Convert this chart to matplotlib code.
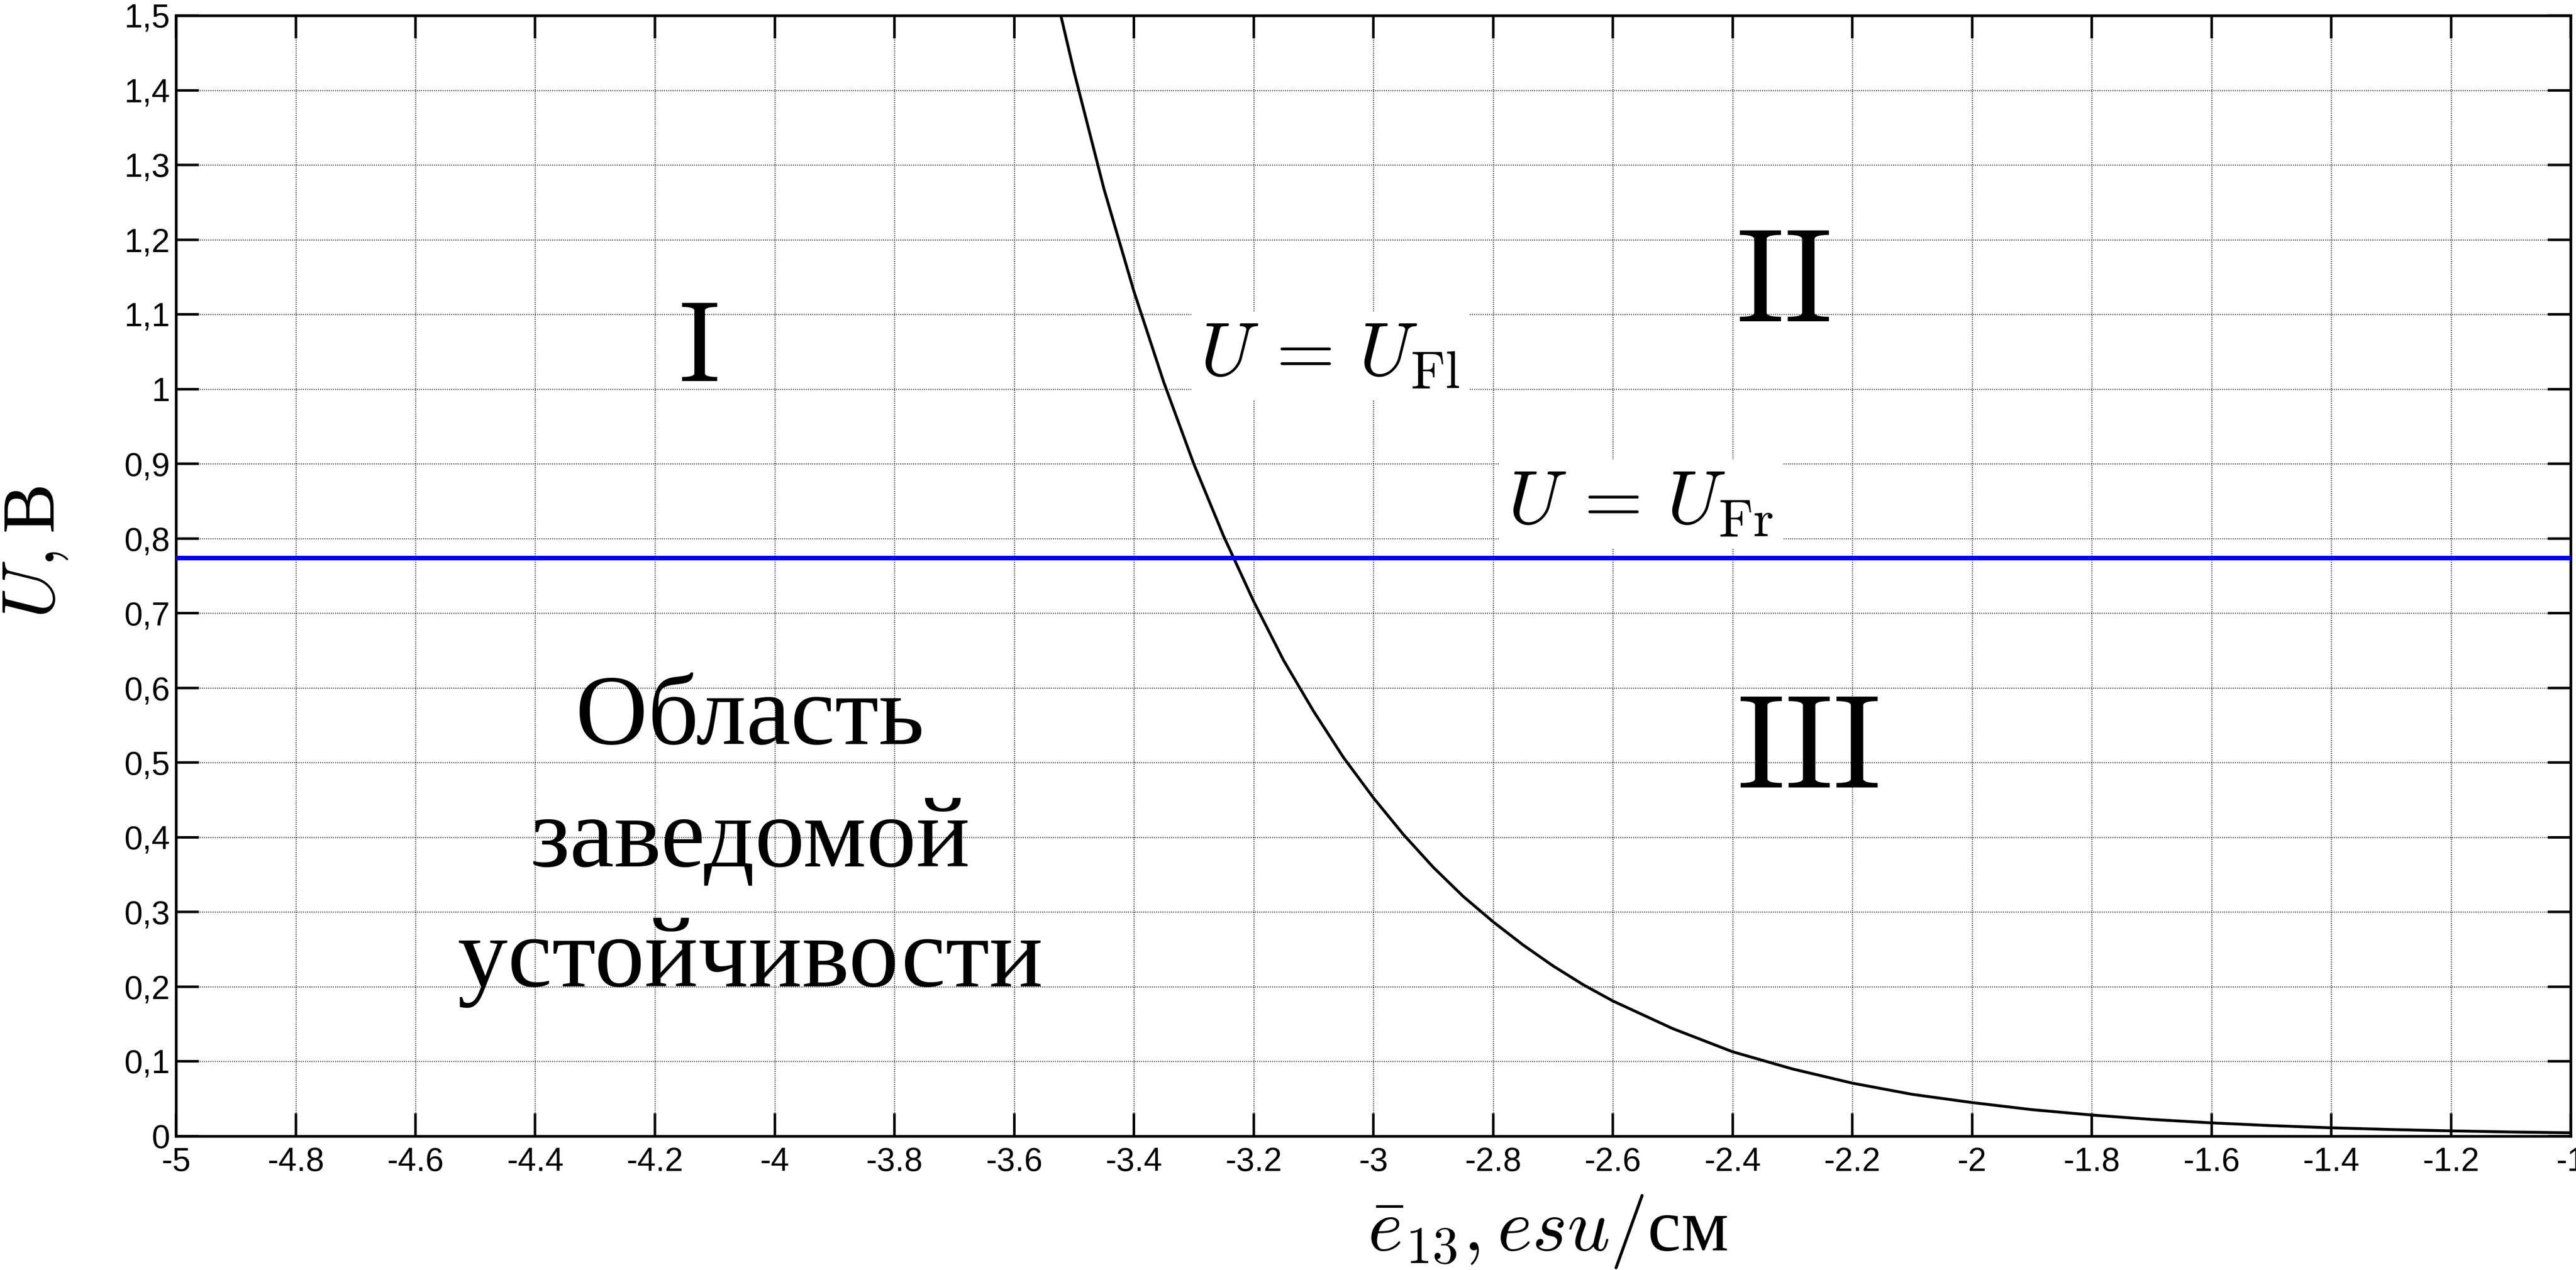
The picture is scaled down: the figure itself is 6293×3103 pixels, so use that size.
import matplotlib
matplotlib.use("Agg")
import matplotlib.pyplot as plt

# ---------------- data ----------------
e13 = [-3.522, -3.50, -3.45, -3.40, -3.35, -3.30, -3.25, -3.20, -3.15, -3.10,
       -3.05, -3.00, -2.95, -2.90, -2.85, -2.80, -2.75, -2.70, -2.65, -2.60,
       -2.50, -2.40, -2.30, -2.20, -2.10, -2.00, -1.90, -1.80, -1.70, -1.60,
       -1.50, -1.40, -1.30, -1.20, -1.10, -1.00]
U_fl = [1.500, 1.425, 1.268, 1.131, 1.009, 0.900, 0.803, 0.716, 0.637, 0.569,
        0.507, 0.453, 0.404, 0.360, 0.321, 0.287, 0.256, 0.228, 0.203, 0.181,
        0.144, 0.113, 0.090, 0.071, 0.056, 0.045, 0.0355, 0.0283, 0.0224, 0.0178,
        0.0141, 0.0112, 0.0089, 0.0071, 0.0056, 0.0045]
U_fr = 0.774

x_ticks = [-5.0, -4.8, -4.6, -4.4, -4.2, -4.0, -3.8, -3.6, -3.4, -3.2, -3.0,
           -2.8, -2.6, -2.4, -2.2, -2.0, -1.8, -1.6, -1.4, -1.2, -1.0]
x_tick_labels = ["-5", "-4.8", "-4.6", "-4.4", "-4.2", "-4", "-3.8", "-3.6",
                 "-3.4", "-3.2", "-3", "-2.8", "-2.6", "-2.4", "-2.2", "-2",
                 "-1.8", "-1.6", "-1.4", "-1.2", "-1"]
y_ticks = [0.0, 0.1, 0.2, 0.3, 0.4, 0.5, 0.6, 0.7, 0.8, 0.9, 1.0, 1.1, 1.2,
           1.3, 1.4, 1.5]
y_tick_labels = ["0", "0,1", "0,2", "0,3", "0,4", "0,5", "0,6", "0,7", "0,8",
                 "0,9", "1", "1,1", "1,2", "1,3", "1,4", "1,5"]

region_labels = ["I", "II", "III"]
stable_lines = ["Область", "заведомой", "устойчивости"]

# ---------------- figure ----------------
plt.rcParams["font.family"] = ["Liberation Sans", "DejaVu Sans"]
plt.rcParams["mathtext.fontset"] = "cm"

W, H = 6293, 3103
fig = plt.figure(figsize=(W / 100, H / 100), dpi=100)
L, R, T, B = 430, 6280, 38, 2776
ax = fig.add_axes([L / W, 1 - B / H, (R - L) / W, (B - T) / H])

ax.plot(e13, U_fl, color="black", lw=5.0, solid_capstyle="butt",
        solid_joinstyle="round", zorder=3)
ax.axhline(U_fr, color="#0000ff", lw=8.0, zorder=3)

ax.set_xlim(-5, -1)
ax.set_ylim(0, 1.5)
ax.set_xticks(x_ticks)
ax.set_xticklabels(x_tick_labels)
ax.set_yticks(y_ticks)
ax.set_yticklabels(y_tick_labels)

ax.grid(True, color="black", linestyle=(0, (0.7, 1.4)), linewidth=1.8)
ax.tick_params(direction="in", length=40, width=4.5, top=True, right=True,
               labelsize=58)
ax.tick_params(axis="x", pad=19)
ax.tick_params(axis="y", pad=10)
for s in ax.spines.values():
    s.set_linewidth(4.7)

serif = ["Liberation Serif", "DejaVu Serif"]

ax.set_ylabel(r"$U,$В", fontsize=132, family=serif, va="baseline")
ax.yaxis.set_label_coords(-0.0508, 0.5205)
ax.set_xlabel(r"$\bar{e}_{13}, esu/$см", fontsize=132, family=serif,
              ha="left", va="baseline")
ax.xaxis.set_label_coords(0.4976, -0.1019)

# region labels
ax.text(-4.128, 1.011, r"$\mathrm{%s}$" % region_labels[0], fontsize=200,
        ha="center", va="baseline", zorder=4)
ax.text(-2.316, 1.091, r"$\mathrm{%s}$" % region_labels[1], fontsize=234,
        ha="center", va="baseline", zorder=4)
ax.text(-2.275, 0.467, r"$\mathrm{%s}$" % region_labels[2], fontsize=234,
        ha="center", va="baseline", zorder=4)

for txt, yb in zip(stable_lines, [0.525, 0.361, 0.200]):
    ax.text(-4.041, yb, txt, fontsize=176, family=serif, ha="center",
            va="baseline", zorder=4)

box = dict(boxstyle="square,pad=0.12", facecolor="white", edgecolor="none")
ax.text(-3.289, 1.018, r"$U\,=\,U_{\mathrm{Fl}}$", fontsize=133,
        ha="left", va="baseline", bbox=box, zorder=4)
ax.text(-2.775, 0.820, r"$U\,=\,U_{\mathrm{Fr}}$", fontsize=133,
        ha="left", va="baseline", bbox=box, zorder=4)

fig.savefig("out.png", dpi=100, facecolor="white")
